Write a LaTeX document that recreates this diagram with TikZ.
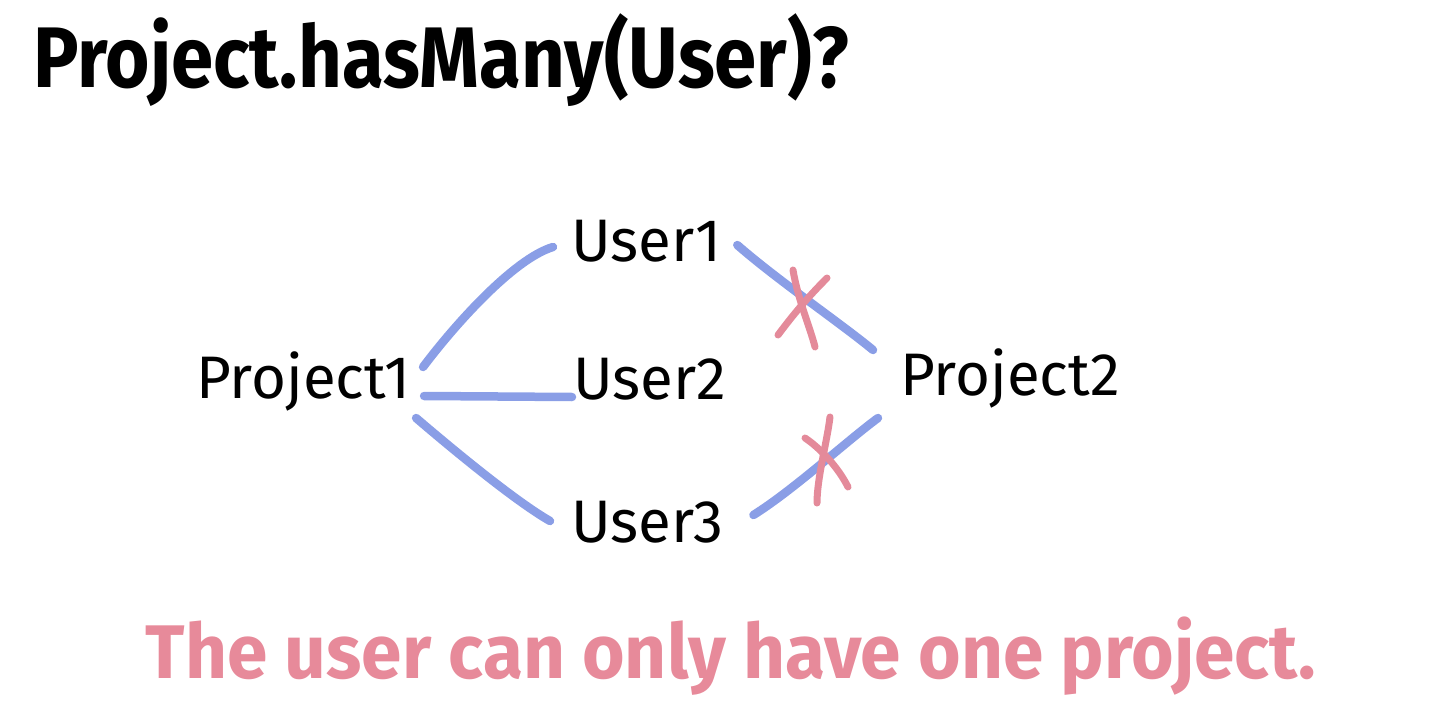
\documentclass[tikz,border=0pt]{standalone}
\usepackage{fontspec}
\setmainfont{Fira Sans}
\newfontfamily\titlefont[FakeStretch=0.885]{Fira Sans}
\newfontfamily\notefont[FakeStretch=0.96]{Fira Sans}
\usetikzlibrary{calc}
\definecolor{linkblue}{HTML}{8A9EE6}
\definecolor{crossred}{HTML}{E48A9A}
\definecolor{notepink}{HTML}{E78A9A}
\tikzset{
  label/.style={font=\fontsize{60}{60}\selectfont, text=black, inner sep=0pt, anchor=base west},
  link/.style={draw=linkblue, line width=8.5pt, line cap=round},
  crossmark/.style={draw=crossred, line width=7pt, line cap=round},
}
\begin{document}
\begin{tikzpicture}[x=1pt,y=-1pt]
\useasboundingbox (0,0) rectangle (1440,714);
\node[anchor=base west, inner sep=0pt, font=\titlefont\fontsize{86}{86}\selectfont\bfseries] (title) at (33,88) {Project.hasMany(User)?};
\node[label] (P1) at (196,398) {Project1};
\node[label] (U1) at (571,261) {User1};
\node[label] (U2) at (573,399) {User2};
\node[label] (U3) at (571,542) {User3};
\node[label] (P2) at (900,395) {Project2};
\node[anchor=base, inner sep=0pt, text=notepink, font=\notefont\fontsize{76}{76}\selectfont\bfseries] (note) at (731,678) {The user can only have one project.};
% links
\draw[link] ($(P1.base east)+(12,-31)$) .. controls +(30,-40) and +(-40,12) .. ($(U1.base west)+(-18,-14)$);
\draw[link] ($(P1.base east)+(13,-2)$) -- ($(U2.base west)+(-1,-2)$);
\draw[link] ($(P1.base east)+(5,20)$) .. controls +(35,30) and +(-35,-20) .. ($(U3.base west)+(-21,-21)$);
\draw[link] ($(U1.base east)+(16,-16)$) .. controls +(40,35) and +(-30,-25) .. ($(P2.base west)+(-27,-45)$);
\draw[link] ($(U3.base east)+(30,-27)$) .. controls +(40,-25) and +(-30,22) .. ($(P2.base west)+(-22,23)$);
% crosses
\coordinate (X1) at (806,305);
\coordinate (X2) at (826,460);
\draw[crossmark] ($(X1)+(-13,-35)$) .. controls +(5,30) and +(-5,-20) .. ($(X1)+(9,42)$);
\draw[crossmark] ($(X1)+(21,-27)$) .. controls +(-20,20) and +(15,-20) .. ($(X1)+(-28,30)$);
\draw[crossmark] ($(X2)+(4,-43)$) .. controls +(-3,25) and +(0,-25) .. ($(X2)+(-9,43)$);
\draw[crossmark] ($(X2)+(-21,-22)$) .. controls +(15,10) and +(-10,-20) .. ($(X2)+(22,27)$);
\end{tikzpicture}
\end{document}
